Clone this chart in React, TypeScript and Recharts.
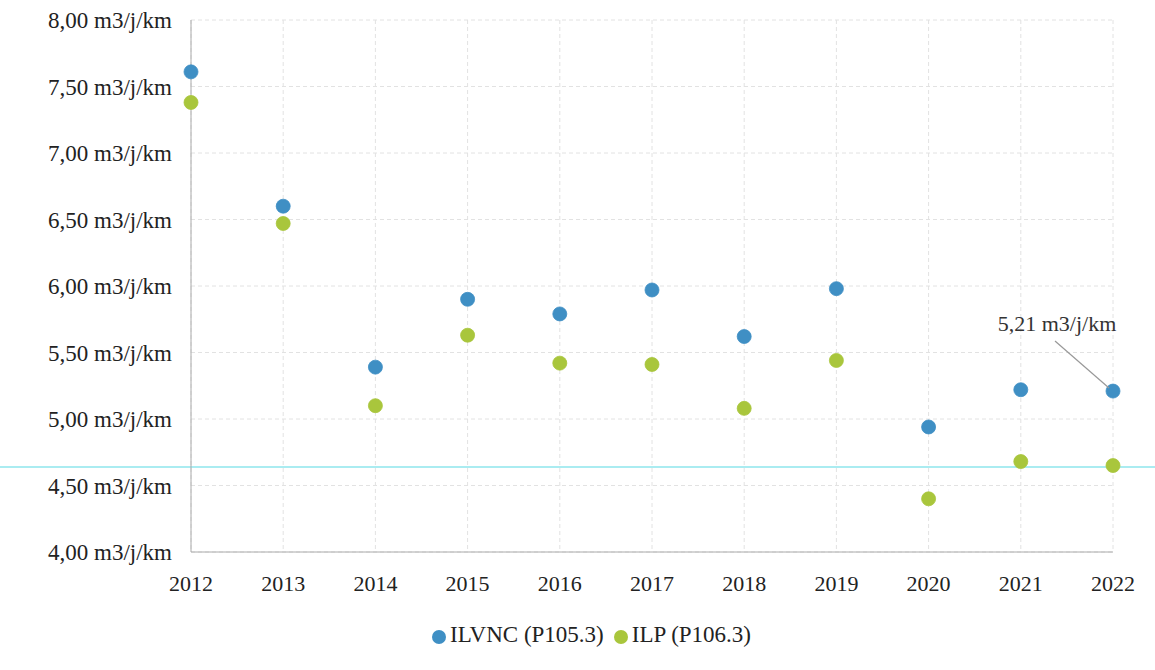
import React from "react";
import {
  ScatterChart,
  Scatter,
  XAxis,
  YAxis,
  CartesianGrid,
  Legend,
  ReferenceLine,
  LabelList,
} from "recharts";

const years = [2012, 2013, 2014, 2015, 2016, 2017, 2018, 2019, 2020, 2021, 2022];
const ilvnc = [7.61, 6.6, 5.39, 5.9, 5.79, 5.97, 5.62, 5.98, 4.94, 5.22, 5.21];
const ilp = [7.38, 6.47, 5.1, 5.63, 5.42, 5.41, 5.08, 5.44, 4.4, 4.68, 4.65];
const yTicks = [4, 4.5, 5, 5.5, 6, 6.5, 7, 7.5, 8];
const seriesNames = ["ILVNC (P105.3)", "ILP (P106.3)"];
const scanLineValue = 4.64;

const seriesA = years.map((y, i) => ({ year: y, value: ilvnc[i] }));
const seriesB = years.map((y, i) => ({ year: y, value: ilp[i] }));

const BLUE = "#3f8fc4";
const GREEN = "#a9c63c";
const FONT = "'Liberation Serif', 'DejaVu Serif', serif";

const fmt = (v: number) => v.toFixed(2).replace(".", ",") + " m3/j/km";

const Dot = (color: string) => (props: any) => {
  const { cx, cy } = props;
  return <circle cx={cx} cy={cy} r={7} fill={color} stroke={color} strokeOpacity={0.8} />;
};

const Annot = (props: any) => {
  const { x, y, width, height, index, value } = props;
  if (index !== years.length - 1) return null;
  const cx = x + (width || 0) / 2;
  const cy = y + (height || 0) / 2;
  return (
    <g>
      <line x1={cx - 58} y1={cy - 50} x2={cx - 4} y2={cy - 3} stroke="#999" strokeWidth={1.2} />
      <text x={cx - 56} y={cy - 60} textAnchor="middle" fontFamily={FONT} fontSize={22} fill="#333">
        {fmt(value)}
      </text>
    </g>
  );
};

const ScanLine = (props: any) => {
  const { y1 } = props;
  return <line x1={0} x2={1155} y1={y1} y2={y1} stroke="#8ee6ec" strokeWidth={1.5} />;
};

export default function App() {
  return (
    <div style={{ position: "absolute", left: 0, top: 0, width: 1155, height: 670, background: "#fff" }}>
      <ScatterChart width={1155} height={670} margin={{ top: 20, right: 42, bottom: 22, left: 0 }}>
        <CartesianGrid stroke="#e2e2e2" strokeDasharray="4 3" />
        <XAxis
          dataKey="year"
          type="number"
          domain={[2012, 2022]}
          ticks={years}
          allowDecimals={false}
          tickLine={false}
          axisLine={{ stroke: "#aaa" }}
          tick={{ fontFamily: FONT, fontSize: 22, fill: "#222" }}
          tickMargin={17}
          height={70}
        />
        <YAxis
          dataKey="value"
          type="number"
          domain={[4, 8]}
          ticks={yTicks}
          tickFormatter={fmt}
          tickLine={false}
          axisLine={{ stroke: "#aaa" }}
          tick={{ fontFamily: FONT, fontSize: 23, fill: "#222" }}
          tickMargin={13}
          width={191}
        />
        <ReferenceLine y={scanLineValue} shape={ScanLine} />
        <Legend
          verticalAlign="bottom"
          iconType="circle"
          iconSize={14}
          itemSorter={(item: any) => seriesNames.indexOf(item.value)}
          wrapperStyle={{ fontFamily: FONT, fontSize: 23, color: "#222", paddingLeft: 40 }}
          formatter={(v: any) => <span style={{ color: "#222" }}>{v}</span>}
        />
        <Scatter name={seriesNames[0]} data={seriesA} fill={BLUE} shape={Dot(BLUE)} isAnimationActive={false}>
          <LabelList dataKey="value" content={Annot} />
        </Scatter>
        <Scatter name={seriesNames[1]} data={seriesB} fill={GREEN} shape={Dot(GREEN)} isAnimationActive={false} />
      </ScatterChart>
    </div>
  );
}
